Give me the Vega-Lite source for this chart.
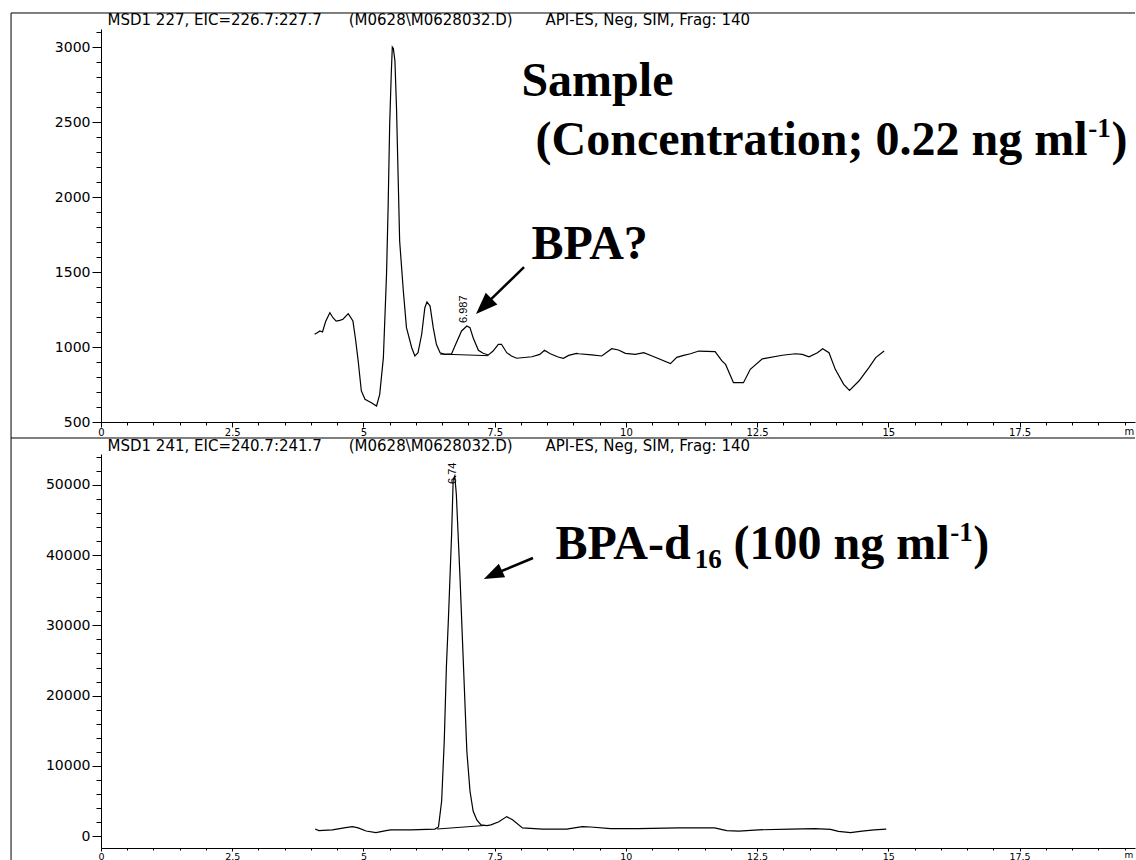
{
  "$schema": "https://vega.github.io/schema/vega-lite/v6.json",
  "padding": {"left": 10, "top": 12, "right": 0, "bottom": 0},
  "autosize": {"type": "pad"},
  "background": "white",
  "bounds": "flush",
  "spacing": 32,
  "config": {
    "view": {"stroke": null},
    "axis": {"domainColor": "black", "tickColor": "black", "labelColor": "black", "labelFont": "DejaVu Sans", "labelFontSize": 11, "grid": false, "title": null, "domainWidth": 1, "tickWidth": 1, "labelFlush": false, "labelOverlap": false}
  },
  "datasets": {
    "top": [
      {"t":4.07,"a":1085},{"t":4.12,"a":1095},{"t":4.17,"a":1107},{"t":4.22,"a":1100},{"t":4.28,"a":1170},{"t":4.36,"a":1229},{"t":4.42,"a":1195},{"t":4.48,"a":1173},{"t":4.55,"a":1178},{"t":4.61,"a":1185},{"t":4.71,"a":1222},{"t":4.80,"a":1173},{"t":4.85,"a":1050},{"t":4.90,"a":907},{"t":4.96,"a":707},{"t":5.03,"a":651},{"t":5.15,"a":629},{"t":5.25,"a":607},{"t":5.31,"a":684},{"t":5.38,"a":929},{"t":5.44,"a":1485},{"t":5.47,"a":1929},{"t":5.50,"a":2485},{"t":5.53,"a":2818},{"t":5.55,"a":3000},{"t":5.57,"a":2990},{"t":5.60,"a":2907},{"t":5.63,"a":2596},{"t":5.66,"a":2151},{"t":5.69,"a":1707},{"t":5.76,"a":1373},{"t":5.82,"a":1129},{"t":5.92,"a":995},{"t":5.98,"a":940},{"t":6.04,"a":962},{"t":6.11,"a":1085},{"t":6.17,"a":1262},{"t":6.21,"a":1300},{"t":6.27,"a":1273},{"t":6.33,"a":1129},{"t":6.39,"a":1018},{"t":6.46,"a":962},{"t":6.55,"a":951},{"t":6.68,"a":955},{"t":6.77,"a":1029},{"t":6.87,"a":1107},{"t":6.97,"a":1140},{"t":7.03,"a":1129},{"t":7.09,"a":1062},{"t":7.19,"a":978},{"t":7.28,"a":958},{"t":7.38,"a":947},{"t":7.47,"a":973},{"t":7.57,"a":1018},{"t":7.63,"a":1018},{"t":7.73,"a":962},{"t":7.82,"a":940},{"t":7.92,"a":925},{"t":8.21,"a":935},{"t":8.36,"a":951},{"t":8.45,"a":978},{"t":8.56,"a":955},{"t":8.71,"a":933},{"t":8.81,"a":925},{"t":8.91,"a":944},{"t":9.06,"a":958},{"t":9.10,"a":955},{"t":9.35,"a":947},{"t":9.54,"a":940},{"t":9.73,"a":989},{"t":9.86,"a":980},{"t":9.99,"a":958},{"t":10.18,"a":951},{"t":10.34,"a":962},{"t":10.50,"a":940},{"t":10.85,"a":889},{"t":10.97,"a":931},{"t":11.10,"a":944},{"t":11.23,"a":955},{"t":11.39,"a":973},{"t":11.70,"a":969},{"t":11.83,"a":907},{"t":11.90,"a":884},{"t":12.05,"a":762},{"t":12.24,"a":762},{"t":12.37,"a":851},{"t":12.60,"a":921},{"t":12.98,"a":945},{"t":13.23,"a":955},{"t":13.36,"a":951},{"t":13.49,"a":935},{"t":13.65,"a":962},{"t":13.75,"a":989},{"t":13.87,"a":962},{"t":13.99,"a":851},{"t":14.15,"a":751},{"t":14.26,"a":711},{"t":14.44,"a":773},{"t":14.63,"a":862},{"t":14.76,"a":929},{"t":14.92,"a":973}
    ],
    "topBase": [{"t":6.46,"a":953},{"t":7.38,"a":942}],
    "bottom": [
      {"t":4.08,"a":1000},{"t":4.15,"a":770},{"t":4.41,"a":890},{"t":4.63,"a":1170},{"t":4.79,"a":1340},{"t":4.90,"a":1170},{"t":5.05,"a":715},{"t":5.24,"a":490},{"t":5.43,"a":770},{"t":5.52,"a":890},{"t":5.90,"a":890},{"t":6.36,"a":1000},{"t":6.43,"a":1300},{"t":6.49,"a":4990},{"t":6.54,"a":13530},{"t":6.58,"a":23970},{"t":6.62,"a":31100},{"t":6.68,"a":42980},{"t":6.71,"a":50800},{"t":6.74,"a":51300},{"t":6.77,"a":48680},{"t":6.84,"a":36800},{"t":6.90,"a":25400},{"t":6.97,"a":12110},{"t":7.03,"a":6410},{"t":7.09,"a":3560},{"t":7.16,"a":2300},{"t":7.24,"a":1600},{"t":7.35,"a":1500},{"t":7.43,"a":1600},{"t":7.58,"a":2030},{"t":7.73,"a":2770},{"t":7.84,"a":2310},{"t":8.03,"a":1170},{"t":8.41,"a":1000},{"t":8.87,"a":1000},{"t":9.17,"a":1340},{"t":9.33,"a":1290},{"t":9.71,"a":1060},{"t":10.24,"a":1060},{"t":11.0,"a":1170},{"t":11.69,"a":1170},{"t":11.92,"a":770},{"t":12.15,"a":715},{"t":12.53,"a":890},{"t":13.14,"a":1000},{"t":13.6,"a":1060},{"t":13.9,"a":940},{"t":14.05,"a":660},{"t":14.28,"a":490},{"t":14.5,"a":715},{"t":14.73,"a":890},{"t":14.96,"a":1000}
    ],
    "botBase": [{"t":6.40,"a":1000},{"t":7.30,"a":1500}],
    "topFrame": [
      {"t":-1.714,"t2":19.7,"a":3226.7,"a2":3226.7},
      {"t":-1.714,"t2":19.7,"a":393.3,"a2":393.3},
      {"t":-1.714,"t2":-1.714,"a":3226.7,"a2":393.3}
    ],
    "botFrame": [{"t":-1.714,"t2":-1.714,"a":56678,"a2":-3409}],
    "topArrow": [{"t":8.06,"a":1533,"t2":7.33,"a2":1284}],
    "topHead": [{"t":7.33,"a":1284}],
    "botArrow": [{"t":8.23,"a":39592,"t2":7.51,"a2":37356}],
    "botHead": [{"t":7.51,"a":37356}],
    "topBig": [
      {"t":8.01,"a":2673,"label":"Sample"},
      {"t":8.28,"a":2277,"label":"(Concentration; 0.22 ng ml"},
      {"t":19.25,"a":2277,"label":")"},
      {"t":8.20,"a":1587,"label":"BPA?"}
    ],
    "topSmall": [{"t":18.81,"a":2403,"label":"-1"}],
    "botBig": [
      {"t":8.66,"a":39449,"label":"BPA-d"},
      {"t":12.05,"a":39449,"label":"(100 ng ml"},
      {"t":16.62,"a":39449,"label":")"}
    ],
    "botSmall": [
      {"t":11.31,"a":38167,"label":"16"},
      {"t":16.18,"a":42012,"label":"-1"}
    ],
    "topPeak": [{"t":6.925,"a":1160,"label":"6.987"}],
    "botPeak": [{"t":6.71,"a":50128,"label":"6.74"}],
    "topHeader": [
      {"t":0.124,"a":3150,"label":"MSD1 227, EIC=226.7:227.7"},
      {"t":4.72,"a":3150,"label":"(M0628\\M0628032.D)"},
      {"t":8.47,"a":3150,"label":"API-ES, Neg, SIM, Frag: 140"}
    ],
    "botHeader": [
      {"t":0.124,"a":54827,"label":"MSD1 241, EIC=240.7:241.7"},
      {"t":4.72,"a":54827,"label":"(M0628\\M0628032.D)"},
      {"t":8.47,"a":54827,"label":"API-ES, Neg, SIM, Frag: 140"}
    ],
    "topUnit": [{"t":19.5,"a":467,"label":"m"}],
    "botUnit": [{"t":19.5,"a":-2130,"label":"m"}]
  },
  "vconcat": [
    {
      "width": 1034,
      "height": 393,
      "encoding": {
        "x": {"field": "t", "type": "quantitative", "scale": {"domain": [0, 19.7], "nice": false, "zero": false},
          "axis": {"values": [0,0.5,1,1.5,2,2.5,3,3.5,4,4.5,5,5.5,6,6.5,7,7.5,8,8.5,9,9.5,10,10.5,11,11.5,12,12.5,13,13.5,14,14.5,15,15.5,16,16.5,17,17.5,18,18.5,19,19.5],
            "labelExpr": "datum.value % 2.5 === 0 ? format(datum.value, '~g') : ''",
            "tickSize": {"condition": {"test": "datum.value % 2.5 === 0", "value": 5}, "value": 3},
            "labelPadding": 0, "labelFontSize": 10}},
        "y": {"field": "a", "type": "quantitative", "scale": {"domain": [500, 3120], "nice": false, "zero": false},
          "axis": {"values": [500,600,700,800,900,1000,1100,1200,1300,1400,1500,1600,1700,1800,1900,2000,2100,2200,2300,2400,2500,2600,2700,2800,2900,3000,3100],
            "labelExpr": "datum.value % 500 === 0 ? format(datum.value, 'd') : ''",
            "tickSize": {"condition": {"test": "datum.value % 500 === 0", "value": 9}, "value": 5},
            "labelPadding": 2, "labelFontSize": 14}}
      },
      "layer": [
        {"data": {"name": "topFrame"}, "mark": {"type": "rule", "color": "black", "strokeWidth": 1}, "encoding": {"x2": {"field": "t2"}, "y2": {"field": "a2"}}},
        {"data": {"name": "top"}, "mark": {"type": "line", "color": "black", "strokeWidth": 1.2}},
        {"data": {"name": "topBase"}, "mark": {"type": "line", "color": "black", "strokeWidth": 1}},
        {"data": {"name": "topArrow"}, "mark": {"type": "rule", "color": "black", "strokeWidth": 2.5}, "encoding": {"x2": {"field": "t2"}, "y2": {"field": "a2"}}},
        {"data": {"name": "topHead"}, "mark": {"type": "point", "shape": "M0,-1L0.6,0.6L-0.6,0.6Z", "filled": true, "color": "black", "opacity": 1, "size": 756, "angle": 225}},
        {"data": {"name": "topBig"}, "mark": {"type": "text", "font": "Liberation Serif", "fontWeight": "bold", "fontSize": 48, "align": "left", "baseline": "alphabetic", "color": "black"}, "encoding": {"text": {"field": "label"}}},
        {"data": {"name": "topSmall"}, "mark": {"type": "text", "font": "Liberation Serif", "fontWeight": "bold", "fontSize": 27, "align": "left", "baseline": "alphabetic", "color": "black"}, "encoding": {"text": {"field": "label"}}},
        {"data": {"name": "topPeak"}, "mark": {"type": "text", "font": "Liberation Sans", "fontSize": 11, "angle": 270, "align": "left", "baseline": "middle", "color": "black"}, "encoding": {"text": {"field": "label"}}},
        {"data": {"name": "topHeader"}, "mark": {"type": "text", "font": "DejaVu Sans", "fontSize": 15, "align": "left", "baseline": "alphabetic", "color": "black"}, "encoding": {"text": {"field": "label"}}},
        {"data": {"name": "topUnit"}, "mark": {"type": "text", "font": "DejaVu Sans", "fontSize": 10, "align": "left", "baseline": "top", "color": "black"}, "encoding": {"text": {"field": "label"}}}
      ]
    },
    {
      "width": 1034,
      "height": 394,
      "encoding": {
        "x": {"field": "t", "type": "quantitative", "scale": {"domain": [0, 19.7], "nice": false, "zero": false},
          "axis": {"values": [0,0.5,1,1.5,2,2.5,3,3.5,4,4.5,5,5.5,6,6.5,7,7.5,8,8.5,9,9.5,10,10.5,11,11.5,12,12.5,13,13.5,14,14.5,15,15.5,16,16.5,17,17.5,18,18.5,19,19.5],
            "labelExpr": "datum.value % 2.5 === 0 ? format(datum.value, '~g') : ''",
            "tickSize": {"condition": {"test": "datum.value % 2.5 === 0", "value": 3}, "value": 2},
            "labelPadding": 0, "labelFontSize": 9.5}},
        "y": {"field": "a", "type": "quantitative", "scale": {"domain": [-1700, 54400], "nice": false, "zero": false},
          "axis": {"values": [0,2000,4000,6000,8000,10000,12000,14000,16000,18000,20000,22000,24000,26000,28000,30000,32000,34000,36000,38000,40000,42000,44000,46000,48000,50000,52000,54000],
            "labelExpr": "datum.value % 10000 === 0 ? format(datum.value, 'd') : ''",
            "tickSize": {"condition": {"test": "datum.value % 10000 === 0", "value": 9}, "value": 5},
            "labelPadding": 2, "labelFontSize": 14}}
      },
      "layer": [
        {"data": {"name": "botFrame"}, "mark": {"type": "rule", "color": "black", "strokeWidth": 1}, "encoding": {"x2": {"field": "t2"}, "y2": {"field": "a2"}}},
        {"data": {"name": "bottom"}, "mark": {"type": "line", "color": "black", "strokeWidth": 1.2}},
        {"data": {"name": "botBase"}, "mark": {"type": "line", "color": "black", "strokeWidth": 1}},
        {"data": {"name": "botArrow"}, "mark": {"type": "rule", "color": "black", "strokeWidth": 2.5}, "encoding": {"x2": {"field": "t2"}, "y2": {"field": "a2"}}},
        {"data": {"name": "botHead"}, "mark": {"type": "point", "shape": "M0,-1L0.6,0.6L-0.6,0.6Z", "filled": true, "color": "black", "opacity": 1, "size": 625, "angle": 245}},
        {"data": {"name": "botBig"}, "mark": {"type": "text", "font": "Liberation Serif", "fontWeight": "bold", "fontSize": 48, "align": "left", "baseline": "alphabetic", "color": "black"}, "encoding": {"text": {"field": "label"}}},
        {"data": {"name": "botSmall"}, "mark": {"type": "text", "font": "Liberation Serif", "fontWeight": "bold", "fontSize": 27, "align": "left", "baseline": "alphabetic", "color": "black"}, "encoding": {"text": {"field": "label"}}},
        {"data": {"name": "botPeak"}, "mark": {"type": "text", "font": "Liberation Sans", "fontSize": 11, "angle": 270, "align": "left", "baseline": "middle", "color": "black"}, "encoding": {"text": {"field": "label"}}},
        {"data": {"name": "botHeader"}, "mark": {"type": "text", "font": "DejaVu Sans", "fontSize": 15, "align": "left", "baseline": "alphabetic", "color": "black"}, "encoding": {"text": {"field": "label"}}},
        {"data": {"name": "botUnit"}, "mark": {"type": "text", "font": "DejaVu Sans", "fontSize": 9, "align": "left", "baseline": "top", "color": "black"}, "encoding": {"text": {"field": "label"}}}
      ]
    }
  ]
}
